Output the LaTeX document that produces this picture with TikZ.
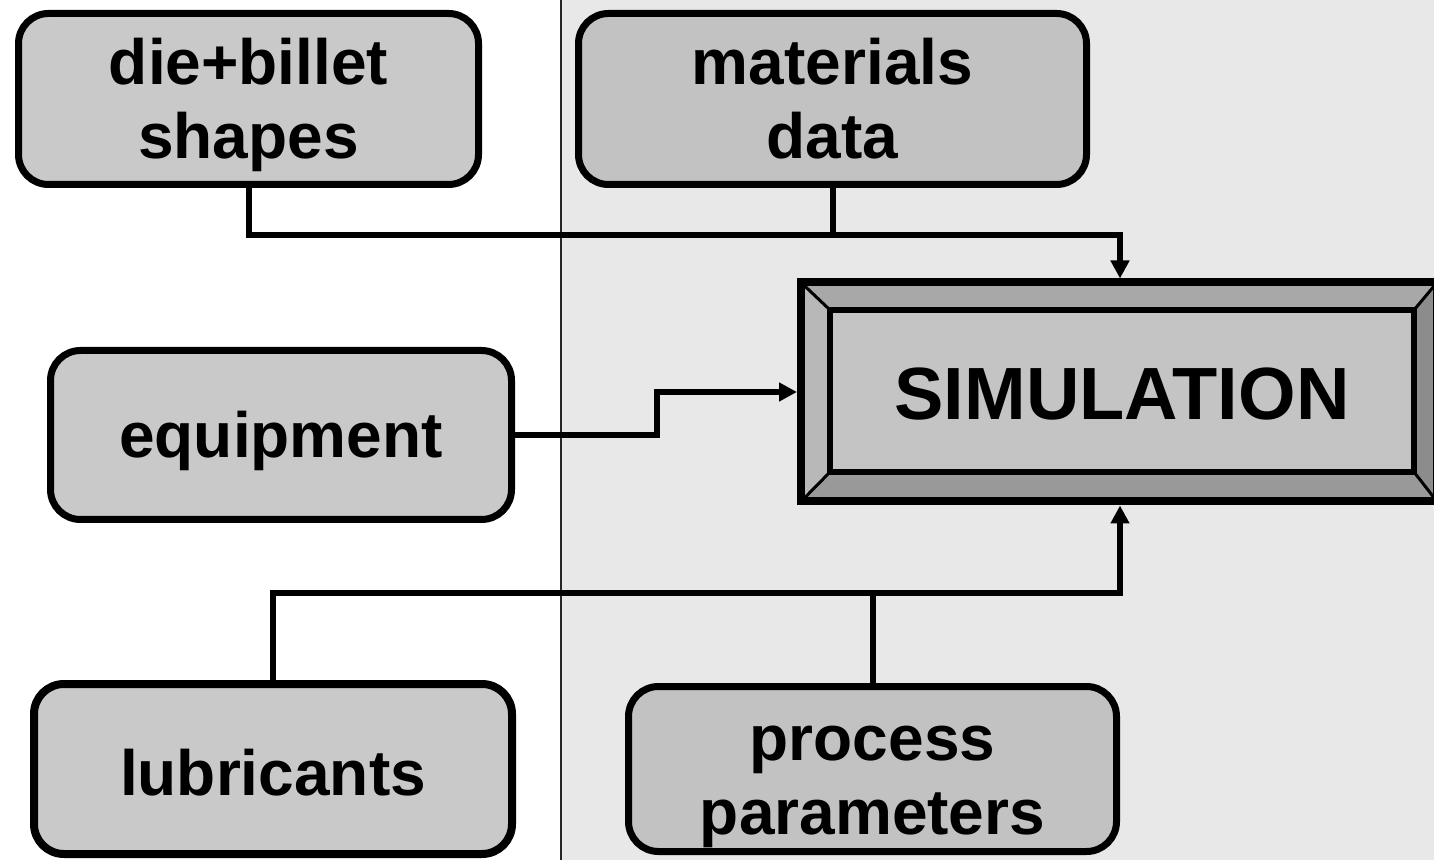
\documentclass[tikz,border=0pt]{standalone}
\usepackage{fontspec}
\setmainfont{Liberation Sans}
\usetikzlibrary{arrows.meta}
\definecolor{panel}{gray}{0.91}
\definecolor{boxfill}{gray}{0.79}
\definecolor{boxdark}{gray}{0.76}
\definecolor{corefill}{gray}{0.77}
\definecolor{beveltop}{gray}{0.66}
\definecolor{bevelleft}{gray}{0.72}
\definecolor{bevelbottom}{gray}{0.60}
\definecolor{bevelright}{gray}{0.55}
\tikzset{> = {Triangle[length=9pt, width=9pt]},
  block/.style = {draw, line width = 3.5pt, rounded corners = 15pt, fill = boxfill,
    align = center, inner sep = 0pt, font = \bfseries\fontsize{32}{37}\selectfont,
    text depth = 7pt, text height = 30pt},
  wire/.style = {line width = 3pt},
  feed/.style = {wire, ->, shorten > = 2pt}}

\begin{document}
\begin{tikzpicture}[x = 0.5pt, y = -0.5pt]
    \useasboundingbox (0,0) rectangle (1434,860);
    % shaded right half and divider
    \fill [panel] (561,0) rectangle (1434,860);
    \draw [line width = 0.8pt, black!85] (561,0) -- (561,860);
    % input blocks
    \node [block, text height = 67pt, minimum width = 230pt, minimum height = 85.5pt] (shapes) at (248.5,99) {die+billet\\shapes};
    \node [block, text height = 67pt, fill = boxdark, minimum width = 254pt, minimum height = 85.5pt] (materials) at (832.5,99) {materials\\data};
    \node [block, minimum width = 230.5pt, minimum height = 84.5pt] (equipment) at (281,435) {equipment};
    \node [block, text height = 33pt, line width = 4pt, minimum width = 239pt, minimum height = 85pt] (lubricants) at (273,769) {lubricants};
    \node [block, text height = 72pt, fill = boxdark, minimum width = 244pt, minimum height = 82.5pt] (process) at (872.5,769) {process\\parameters};
    % simulation frame with bevelled border
    \node [draw, line width = 4pt, fill = bevelleft, outer sep = 0pt, minimum width = 318pt, minimum height = 109.5pt] (sim) at (1119,392) {};
    \node [outer sep = 0pt, minimum width = 292pt, minimum height = 81pt] (core) at (1122,391) {};
    \fill [beveltop] (sim.north west) -- (sim.north east) -- (core.north east) -- (core.north west) -- cycle;
    \fill [bevelright] (sim.north east) -- (sim.south east) -- (core.south east) -- (core.north east) -- cycle;
    \fill [bevelbottom] (sim.south west) -- (sim.south east) -- (core.south east) -- (core.south west) -- cycle;
    \draw [line width = 1.5pt] (sim.north west) -- (core.north west)
        (sim.north east) -- (core.north east)
        (sim.south west) -- (core.south west)
        (sim.south east) -- (core.south east);
    \draw [line width = 4pt] (sim.north west) rectangle (sim.south east);
    \node [draw, line width = 3pt, fill = corefill, outer sep = 0pt, minimum width = 292pt, minimum height = 81pt,
        font = \bfseries\fontsize{37}{40}\selectfont, text height = 29pt, text depth = 0pt] (label) at (core) {SIMULATION};
    % junctions
    \coordinate (jtop) at (1120,235);
    \coordinate (jmid) at (657,392);
    \coordinate (jlow) at (1120,593);
    % paths
    \draw [feed] (shapes.south) |- (jtop) -- (sim.north -| jtop);
    \draw [wire] (materials.south) -- (materials.south |- jtop);
    \draw [feed] (equipment.east) -| (jmid) -- (sim.west);
    \draw [feed] (lubricants.north) |- (jlow) -- (sim.south -| jlow);
    \draw [wire] (process.north) -- (process.north |- jlow);
\end{tikzpicture}
\end{document}
